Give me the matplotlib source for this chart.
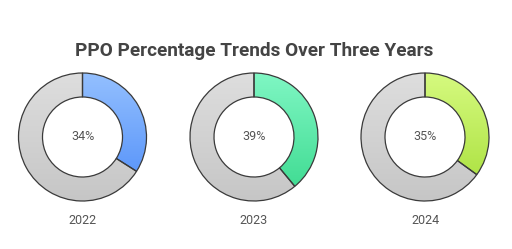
import numpy as np
import matplotlib
matplotlib.use('Agg')
from matplotlib import pyplot as plt
from matplotlib.colors import LinearSegmentedColormap

# Donnees
years = ['2022', '2023', '2024']
ppo_pct = [34, 39, 35]
colors_top = ['#94c0ff', '#80f7c4', '#d6fa80']
colors_bottom = ['#4d8cf8', '#3ad98e', '#a6de38']
gray_top = '#dedede'
gray_bottom = '#c6c6c6'

plt.rcParams['font.family'] = ['Roboto', 'DejaVu Sans']

W, H = 512, 249
fig = plt.figure(figsize=(W / 100, H / 100), dpi=100)
fig.patch.set_facecolor('white')

radius_px = 64.0
centers_x = [82.5, 254.0, 425.0]
center_y = 137.0
lim = 1.1
size_px = 2 * lim * radius_px

grad = np.linspace(0, 1, 256).reshape(-1, 1)

for i in range(len(years)):
    cx = centers_x[i]
    ax = fig.add_axes([(cx - size_px / 2) / W, (H - center_y - size_px / 2) / H,
                       size_px / W, size_px / H])
    ax.set_xlim(-lim, lim)
    ax.set_ylim(-lim, lim)
    ax.set_aspect('equal')
    ax.axis('off')

    vals = [ppo_pct[i], 100 - ppo_pct[i]]
    wedges, _ = ax.pie(vals, startangle=90, counterclock=False, radius=1.0,
                       colors=['none', 'none'],
                       wedgeprops=dict(width=0.375, edgecolor='#3a3a3a', linewidth=0.9))
    for w in wedges:
        w.set_zorder(3)

    # degrade vertical, clippe par chaque secteur
    cmaps = [LinearSegmentedColormap.from_list('c%d' % i, [colors_bottom[i], colors_top[i]]),
             LinearSegmentedColormap.from_list('g%d' % i, [gray_bottom, gray_top])]
    for w, cm in zip(wedges, cmaps):
        im = ax.imshow(grad, cmap=cm, extent=[-1, 1, -1, 1], origin='lower',
                       aspect='auto', zorder=2)
        im.set_clip_path(w)
    ax.set_xlim(-lim, lim)
    ax.set_ylim(-lim, lim)

    ax.text(0, 0, '%d%%' % ppo_pct[i], ha='center', va='center',
            fontsize=9, color='#555555')
    fig.text(cx / W, 1 - 220 / H, years[i], ha='center', va='center',
             fontsize=9, color='#555555')

fig.text(254.5 / W, 1 - 50.5 / H, 'PPO Percentage Trends Over Three Years',
         ha='center', va='center', fontsize=13.7, fontweight='bold', color='#444444')

fig.savefig('out.png', dpi=100, facecolor='white')
